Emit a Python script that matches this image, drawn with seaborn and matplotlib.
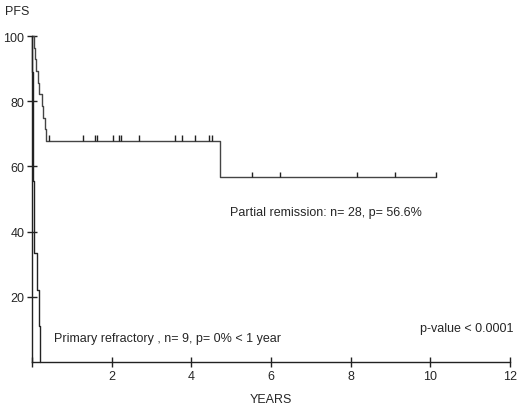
import pandas as pd
import numpy as np
import seaborn as sns
import matplotlib
matplotlib.use('Agg')
import matplotlib.pyplot as plt

# data (Kaplan-Meier steps, in years / %)
pr_times = [0, 0.04, 0.08, 0.11, 0.14, 0.18, 0.24, 0.28, 0.32, 0.36, 4.72, 10.15]
pr_surv = [100, 96.4, 92.9, 89.3, 85.7, 82.1, 78.6, 75.0, 71.4, 67.9, 56.6, 56.6]

ref_times = [0, 0.01, 0.02, 0.03, 0.035, 0.04, 0.05, 0.12, 0.17, 0.20]
ref_surv = [100, 88.9, 77.8, 66.7, 55.6, 44.4, 33.3, 22.2, 11.1, 0]

# censored patients in partial remission group
cens_times_1 = [0.43, 1.29, 1.58, 1.63, 2.03, 2.19, 2.24, 2.69, 3.59, 3.77, 4.09, 4.44, 4.51]
cens_level_1 = 67.9
cens_times_2 = [5.52, 6.22, 8.15, 9.11, 10.15]
cens_level_2 = 56.6

x_ticks = [0, 2, 4, 6, 8, 10, 12]
x_labels = ['', '2', '4', '6', '8', '10', '12']
y_ticks = [20, 40, 60, 80, 100]

df = pd.concat([
    pd.DataFrame({'time': pr_times, 'surv': pr_surv, 'group': 'Partial remission'}),
    pd.DataFrame({'time': ref_times, 'surv': ref_surv, 'group': 'Primary refractory'}),
])

sns.set_style('white')
plt.rcParams['font.family'] = ['Liberation Sans', 'DejaVu Sans']

fig = plt.figure(figsize=(5.2, 4.06), dpi=100)
ax = fig.add_axes([32 / 520, 43 / 406, 478 / 520, 326 / 406])

sns.lineplot(data=df, x='time', y='surv', hue='group',
             palette={'Partial remission': '#444444', 'Primary refractory': '#222222'},
             drawstyle='steps-post', estimator=None, sort=False, legend=False,
             linewidth=1.0, ax=ax)
for ln in ax.lines:
    ln.set_clip_on(False)

# censor marks
ax.vlines(cens_times_1, cens_level_1, cens_level_1 + 1.8, color='#222222', linewidth=1.0)
ax.vlines(cens_times_2, cens_level_2, cens_level_2 + 1.8, color='#222222', linewidth=1.0)

ax.set_xlim(0, 12)
ax.set_ylim(0, 100)
ax.set_xticks(x_ticks)
ax.set_xticklabels(x_labels)
ax.set_yticks(y_ticks)
ax.tick_params(direction='inout', length=7, width=1, color='#222222',
               labelsize=9, pad=2, left=True, bottom=True)
sns.despine(ax=ax)
for s in ['left', 'bottom']:
    ax.spines[s].set_color('#222222')
    ax.spines[s].set_linewidth(1.0)

ax.set_xlabel('YEARS', fontsize=9, labelpad=8)
ax.set_ylabel('')
fig.text(5 / 520, 1 - 12 / 406, 'PFS', fontsize=9, va='center', ha='left')

ax.text(4.97, 46, 'Partial remission: n= 28, p= 56.6%', fontsize=9, va='center')
ax.text(0.55, 7.4, 'Primary refractory , n= 9, p= 0% < 1 year', fontsize=9, va='center')
ax.text(12.08, 10.4, 'p-value < 0.0001', fontsize=9, va='center', ha='right')

fig.savefig('out.png', dpi=100)
